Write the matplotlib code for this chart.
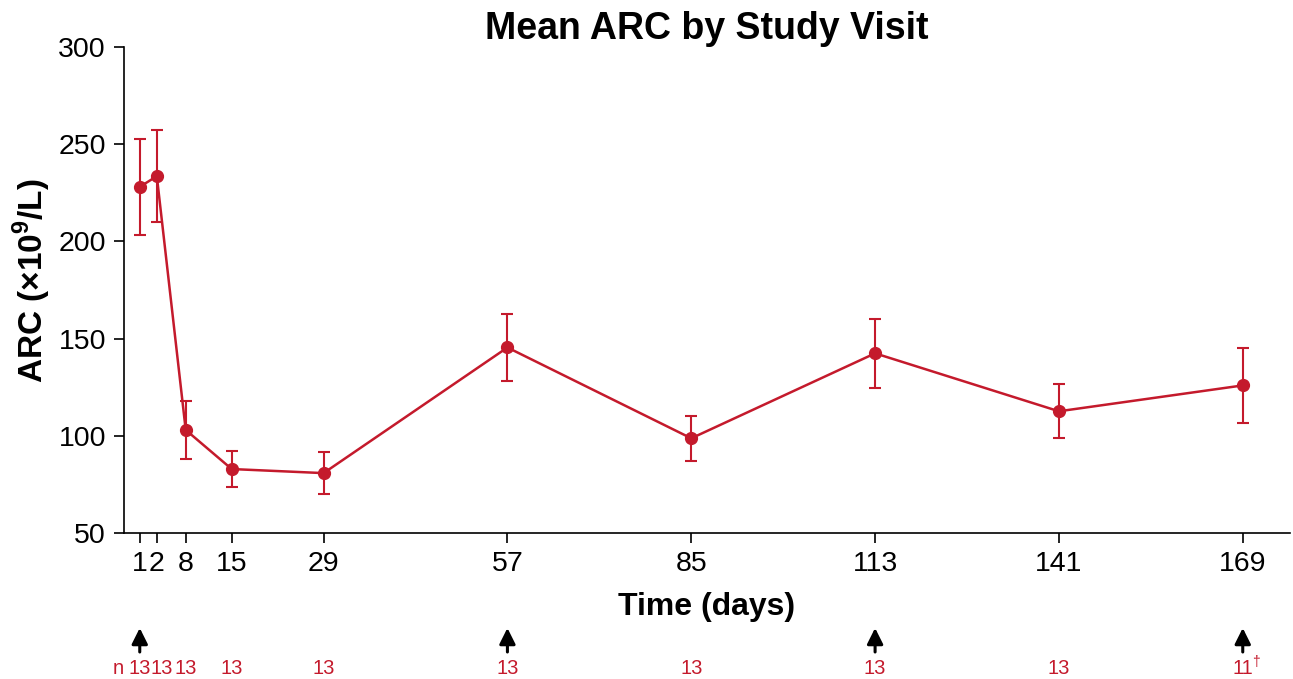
import matplotlib
matplotlib.use('Agg')
import matplotlib.pyplot as plt
import matplotlib.transforms as mtransforms

plt.rcParams['font.family'] = ['Liberation Sans', 'DejaVu Sans']
plt.rcParams['mathtext.fontset'] = 'custom'
plt.rcParams['mathtext.rm'] = 'Liberation Sans'
plt.rcParams['mathtext.bf'] = 'Liberation Sans:bold'

RED = '#C41A2C'

# visit day, mean ARC and standard error
days = [1, 2, 8, 15, 29, 57, 85, 113, 141, 169]
mean_arc = [228.0, 233.5, 103.0, 82.9, 80.8, 145.4, 98.7, 142.4, 112.6, 125.9]
err_arc = [24.5, 23.7, 14.7, 9.2, 10.9, 17.1, 11.6, 17.7, 13.8, 19.4]
n_subjects = ['13', '13', '13', '13', '13', '13', '13', '13', '13', '11']
dose_days = [1, 57, 113, 169]

# day 2 sits right next to day 1, nudge it over so the two don't collide
nudge = {2: 1.6}
count_nudge = {2: 2.4}
xpos = [d + nudge.get(d, 0) for d in days]

fig = plt.figure(figsize=(12.93, 6.79), dpi=100)
ax = fig.add_axes([0.0959, 0.215, 0.9018, 0.716])

ax.errorbar(xpos, mean_arc, yerr=err_arc, color=RED, lw=1.8, marker='o',
            markersize=8.5, capsize=4, elinewidth=1.5, capthick=1.5,
            ecolor=RED)

ax.set_xlim(-1.4, 176.2)
ax.set_ylim(50, 300)
ax.set_yticks([50, 100, 150, 200, 250, 300])
ax.set_xticks(xpos)
ax.set_xticklabels([str(d) for d in days])
for side in ('top', 'right'):
    ax.spines[side].set_visible(False)
for side in ('left', 'bottom'):
    ax.spines[side].set_linewidth(1.2)
ax.tick_params(axis='both', direction='out', length=7, width=1.2,
               labelsize=20.5, pad=6)

ax.set_title('Mean ARC by Study Visit', fontsize=27, fontweight='bold', pad=5)
ax.set_xlabel('Time (days)', fontsize=23, fontweight='bold', labelpad=11)
ax.set_ylabel(r'ARC (×10$^{\mathbf{9}}$/L)', fontsize=24, fontweight='bold')
ax.yaxis.set_label_coords(-0.061, 0.52)

# dosing arrows and subject counts under the axis
trans = mtransforms.blended_transform_factory(ax.transData, fig.transFigure)
for d in dose_days:
    x = d + nudge.get(d, 0)
    ax.annotate('', xy=(x, 1 - 628 / 679), xytext=(x, 1 - 652 / 679),
                xycoords=trans, textcoords=trans, annotation_clip=False,
                arrowprops=dict(arrowstyle='-|>', color='black', lw=2.2,
                                mutation_scale=24, shrinkA=0, shrinkB=0))

y_n = 1 - 668 / 679
fig.text(118 / 1293, y_n, 'n', color=RED, fontsize=14.5, ha='center', va='center')
for d, n in zip(days, n_subjects):
    x = d + count_nudge.get(d, 0)
    ax.text(x, y_n, n, color=RED, fontsize=14.5, ha='center', va='center',
            transform=trans)
    if n != '13':
        ax.text(x + 1.35, y_n + 0.009, '†', color=RED, fontsize=10,
                ha='left', va='center', transform=trans)

fig.savefig('out.png', dpi=100, facecolor='white')
